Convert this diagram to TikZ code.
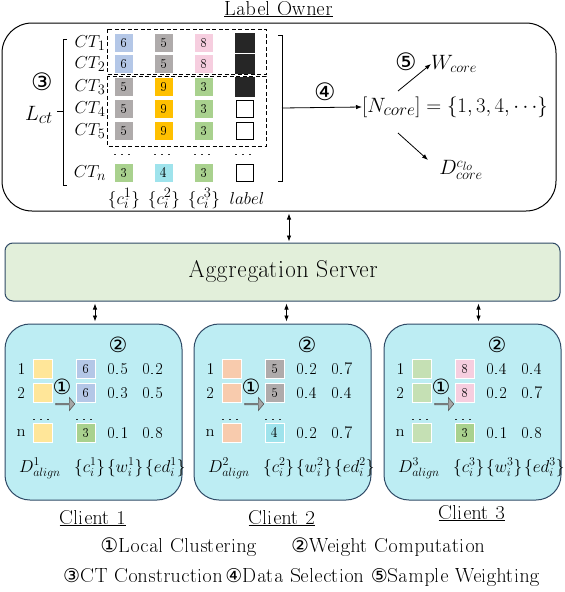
\documentclass[tikz,border=0pt]{standalone}
\usepackage{fontspec}
\newfontfamily\dejavu{DejaVu Sans}
\renewcommand{\encodingdefault}{T1}
\renewcommand{\rmdefault}{qtm}
\usetikzlibrary{arrows.meta,shapes.arrows,calc}
\renewcommand{\defaultscriptratio}{.78}
\renewcommand{\defaultscriptscriptratio}{.62}
\definecolor{cblue}{HTML}{B4C7E7}
\definecolor{cgray}{HTML}{AFABAB}
\definecolor{cpink}{HTML}{F6CEDF}
\definecolor{corange}{HTML}{FFC000}
\definecolor{cgreen}{HTML}{A9D18E}
\definecolor{ccyan}{HTML}{9FE3EC}
\definecolor{cblack}{HTML}{262626}
\definecolor{cyellow}{HTML}{FFE699}
\definecolor{csalmon}{HTML}{F8CBAD}
\definecolor{clgreen}{HTML}{C5E0B4}
\definecolor{aggfill}{HTML}{E2EFDA}
\definecolor{clientfill}{HTML}{BDEDF3}
\definecolor{boxborder}{HTML}{2F4A66}
\newcommand{\fs}[1]{\fontsize{#1}{#1}\selectfont}
\tikzset{
  sq/.style={minimum size=19.5pt,inner sep=0pt,draw=white,line width=0.8pt,font=\fs{14.5}},
  blk/.style={minimum size=19pt,inner sep=0pt,fill=cblack,draw=cblack},
  wsq/.style={minimum size=17pt,inner sep=0pt,fill=white,draw=black,line width=1pt},
  ctlab/.style={font=\fs{17},inner sep=0pt},
  circ/.style={font=\dejavu\fs{24},inner sep=0pt},
  circs/.style={font=\dejavu\fs{21},inner sep=0pt},
  client/.style={draw=boxborder,fill=clientfill,line width=1pt,rounded corners=25pt,minimum width=177pt,minimum height=176pt},
  num/.style={font=\fs{16.5},inner sep=0pt},
  blockarrow/.style={single arrow,fill=gray!70,draw=gray!130,line width=0.6pt,minimum height=19pt,minimum width=13pt,single arrow head extend=2.5pt,single arrow tip angle=100,inner sep=0pt},
  leg/.style={font=\fs{22},inner sep=0pt},
  legb/.style={font=\fs{19.5},inner sep=0pt},
  dashbox/.style={draw,dashed,dash pattern=on 4pt off 2.5pt,line width=1pt},
  mlab/.style={font=\fs{16},inner sep=0pt},
}
\begin{document}
\begin{tikzpicture}[x=1pt,y=-1pt,>={Latex[length=6pt,width=4.5pt]}]
\useasboundingbox[fill=white] (0,0) rectangle (565,592);

% ---------------- Label owner ----------------
\node[draw,line width=1pt,rounded corners=30pt,minimum width=554pt,minimum height=188pt] (owner) at (279,117) {};
\node[font=\fs{20.5},inner sep=0pt,anchor=base] (title) at (278.5,15) {\underline{Label Owner}};

\foreach \r/\y in {1/43,2/64,3/87,4/109,5/131,n/173}
  \node[ctlab] (ct\r) at (90,\y) {$CT_{\r}$};

\foreach \r/\y/\ca/\na/\cb/\nb/\cc/\nc in {
  1/43/cblue/6/cgray/5/cpink/8,
  2/64/cblue/6/cgray/5/cpink/8,
  3/87/cgray/5/corange/9/cgreen/3,
  4/109/cgray/5/corange/9/cgreen/3,
  5/131/cgray/5/corange/9/cgreen/3,
  n/173/cgreen/3/ccyan/4/cgreen/3}{
  \node[sq,fill=\ca] (s\r a) at (124,\y) {\na};
  \node[sq,fill=\cb] (s\r b) at (164,\y) {\nb};
  \node[sq,fill=\cc] (s\r c) at (204,\y) {\nc};
}
\node[blk] (s1d) at (245,43) {};
\node[blk] (s2d) at (245,64) {};
\node[blk] (s3d) at (245,87) {};
\node[wsq] (s4d) at (245,109) {};
\node[wsq] (s5d) at (245,131) {};
\node[wsq] (snd) at (245,173) {};

\foreach \c/\x in {a/124,b/164,c/204,d/245}
  \node[font=\fs{18},inner sep=0pt,anchor=base] (dot\c) at (\x,155) {\dots};

\draw[dashbox] (107,29) rectangle (266,74);
\draw[dashbox] (107,76) rectangle (266,146);

\node[font=\fs{17},inner sep=0pt,anchor=base] (cola) at (124,204) {$\{c_i^1\}$};
\node[font=\fs{17},inner sep=0pt,anchor=base] (colb) at (164,204) {$\{c_i^2\}$};
\node[font=\fs{17},inner sep=0pt,anchor=base] (colc) at (204,204) {$\{c_i^3\}$};
\node[font=\fs{17},inner sep=0pt,anchor=base] (cold) at (247,204) {$label$};

% left bracket
\draw[line width=0.8pt] (67,39) -- (63,39) -- (63,185) -- (67,185);
\draw[line width=0.8pt] (63,111) -- (57,111);
\node[circ] (n3) at (42,82) {③};
\node[font=\fs{22},inner sep=0pt] (lct) at (39,115) {$L_{ct}$};

% right bracket
\draw[line width=0.8pt] (278,35) -- (282,35) -- (282,181) -- (278,181);
\coordinate (brR) at (282,108);

\node[anchor=west,font=\fs{22},inner sep=0pt] (ncore) at (362,107) {$[N_{core}] = \{1, 3, 4, \cdots\}$};
\draw[->,line width=0.8pt] (brR) -- (ncore.west);
\node[circ] (n4) at (325,92) {④};

\node[anchor=west,font=\fs{20},inner sep=0pt] (wcore) at (431,64) {$W_{core}$};
\node[circ] (n5) at (406,62) {⑤};
\node[font=\fs{20},inner sep=0pt] (dcore) at (461,170) {$D_{core}^{c_{lo}}$};
\coordinate (wa) at (398,91);
\coordinate (da) at (398,133);
\coordinate (db) at (428,160);
\draw[->,line width=0.8pt] (wa) -- (wcore.west);
\draw[->,line width=0.8pt] (da) -- (db);

% ---------------- Aggregation server ----------------
\node[draw=boxborder,fill=aggfill,line width=1pt,rounded corners=8pt,minimum width=555pt,minimum height=58pt] (agg) at (282.5,272) {};
\node[font=\fs{23},inner sep=0pt,anchor=base] (aggtext) at (283.5,277) {Aggregation Server};
\draw[<->,line width=0.8pt,shorten <=2pt,shorten >=1pt] ([xshift=10pt]owner.south) -- ([xshift=10pt]owner.south |- agg.north);

% ---------------- Clients ----------------
\foreach \k/\x/\ax/\ly/\dc/\ca/\na/\cb/\nb/\cc/\nc/\va/\vb/\vc/\vd/\ve/\vf in {
  1/5/1.5/524/cyellow/cblue/6/cblue/6/cgreen/3/0.5/0.2/0.3/0.5/0.1/0.8,
  2/194/4/524/csalmon/cgray/5/cgray/5/ccyan/4/0.2/0.7/0.4/0.4/0.2/0.7,
  3/384/6/519/clgreen/cpink/8/cpink/8/cgreen/3/0.4/0.4/0.2/0.7/0.1/0.8}{
  \node[client] (c\k) at ({\x+88.5},412) {};
  \draw[<->,line width=0.8pt,shorten <=2pt,shorten >=2pt] ([xshift=\ax pt]c\k.north) -- ([xshift=\ax pt]c\k.north |- agg.south);
  \node[num] (c\k r1) at ({\x+17},369) {1};
  \node[num] (c\k r2) at ({\x+17},393) {2};
  \node[num] (c\k rn) at ({\x+17},433) {n};
  \node[sq,fill=\dc] (c\k d1) at ({\x+38},369) {};
  \node[sq,fill=\dc] (c\k d2) at ({\x+38},393) {};
  \node[sq,fill=\dc] (c\k dn) at ({\x+38},433) {};
  \node[sq,fill=\ca] (c\k k1) at ({\x+81},369) {\na};
  \node[sq,fill=\cb] (c\k k2) at ({\x+81},393) {\nb};
  \node[sq,fill=\cc] (c\k kn) at ({\x+81},433) {\nc};
  \node[font=\fs{17},inner sep=0pt,anchor=base] (c\k dd) at ({\x+38},420) {\dots};
  \node[font=\fs{17},inner sep=0pt,anchor=base] (c\k kd) at ({\x+81},420) {\dots};
  \node[num] (c\k v1) at ({\x+113},369) {\va};
  \node[num] (c\k v2) at ({\x+148},369) {\vb};
  \node[num] (c\k v3) at ({\x+113},393) {\vc};
  \node[num] (c\k v4) at ({\x+148},393) {\vd};
  \node[num] (c\k v5) at ({\x+113},433) {\ve};
  \node[num] (c\k v6) at ({\x+148},433) {\vf};
  \node[circs] (c\k o1) at ({\x+57},387) {①};
  \node[blockarrow] (c\k ar) at ({\x+60},404) {};
  \node[circs] (c\k o2) at ({\x+113},345) {②};
  \node[mlab,anchor=base] (c\k D) at ({\x+35},472) {$D_{align}^{\k}$};
  \node[mlab,anchor=base west] (c\k C) at ({\x+69},472) {$\{c_i^{\k}\}$};
  \node[mlab,anchor=base west] (c\k W) at ([xshift=1.5pt]c\k C.base east) {$\{w_i^{\k}\}$};
  \node[mlab,anchor=base west] (c\k E) at ([xshift=1.5pt]c\k W.base east) {$\{ed_i^{\k}\}$};
  \node[font=\fs{20.5},inner sep=0pt,anchor=base] (cl\k) at ({\x+88},\ly) {\underline{Client \k}};
}

% ---------------- Legend ----------------
\node[leg,anchor=base east] (leg1) at (257,552) {{\dejavu\fs{20}①}Local Clustering};
\node[leg,anchor=base west] (leg2) at (291,552) {{\dejavu\fs{20}②}Weight Computation};
\node[legb,anchor=base west] (leg3) at (63,582) {{\dejavu\fs{19}③}CT Construction};
\node[legb,anchor=base] (leg4) at (295,582) {{\dejavu\fs{19}④}Data Selection};
\node[legb,anchor=base east] (leg5) at (540,582) {{\dejavu\fs{19}⑤}Sample Weighting};
\end{tikzpicture}
\end{document}
